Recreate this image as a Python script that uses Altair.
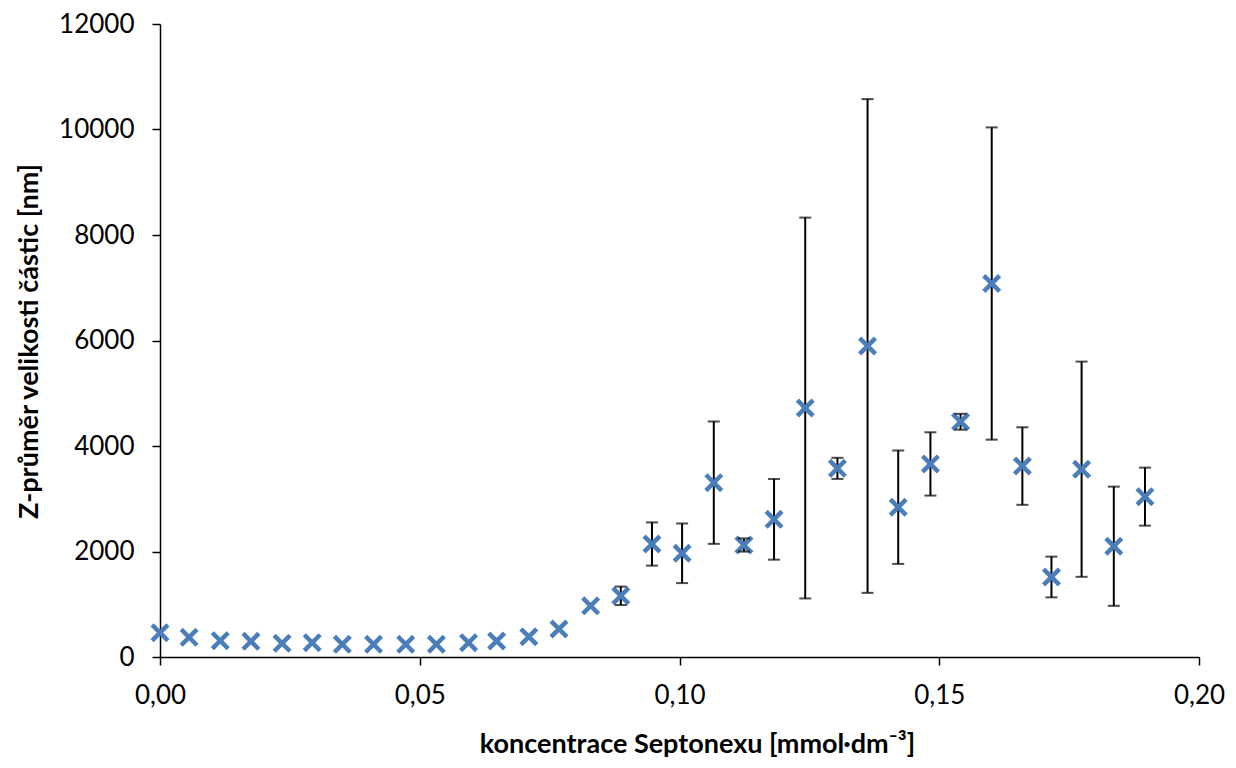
import altair as alt
import pandas as pd

conc = [0.0, 0.0056, 0.0116, 0.0175, 0.0235, 0.0293, 0.0351, 0.0411, 0.0473, 0.0532,
        0.0594, 0.0648, 0.0710, 0.0768, 0.0829, 0.0887, 0.0947, 0.1005, 0.1066, 0.1124,
        0.1182, 0.1242, 0.1304, 0.1362, 0.1421, 0.1483, 0.1541, 0.1601, 0.1660, 0.1716,
        0.1774, 0.1836, 0.1896]
size_nm = [460, 373, 310, 297, 259, 272, 240, 240, 240, 240,
           272, 303, 385, 530, 970, 1160, 2142, 1966, 3305, 2123,
           2610, 4720, 3576, 5896, 2840, 3660, 4460, 7080, 3620, 1517,
           3560, 2100, 3040]
err_nm = [0, 0, 0, 0, 0, 0, 0, 0, 0, 0,
          0, 0, 0, 0, 0, 175, 410, 565, 1160, 125,
          765, 3610, 200, 4680, 1075, 600, 150, 2960, 735, 386,
          2040, 1130, 550]

x_ticks = [0.0, 0.05, 0.10, 0.15, 0.20]
y_ticks = [0, 2000, 4000, 6000, 8000, 10000, 12000]

df = pd.DataFrame({"c": conc, "z": size_nm, "e": err_nm})
df["lo"] = df["z"] - df["e"]
df["hi"] = df["z"] + df["e"]
dfe = df[df["e"] > 0]

FONT = "Lato"

xs = alt.Scale(domain=[0, 0.2], nice=False, zero=False)
ys = alt.Scale(domain=[0, 12000], nice=False)

x_axis = alt.Axis(
    values=x_ticks,
    labelExpr="replace(format(datum.value, '.2f'), '.', ',')",
    title="koncentrace Septonexu [mmol·dm⁻³]",
    grid=False, tickSize=8, labelPadding=17, labelFlush=False,
    titleX=537, titleY=87, titleBaseline="middle", titleAnchor="middle",
)
y_axis = alt.Axis(
    values=y_ticks, format="d",
    title="Z-průměr velikosti částic [nm]",
    grid=False, tickSize=8, labelPadding=18, labelFlush=False,
    titleX=-131, titleY=317, titleAngle=270, titleBaseline="middle",
    titleAlign="center",
)

rules = alt.Chart(dfe).mark_rule(color="black", strokeWidth=2).encode(
    x=alt.X("c:Q", scale=xs, axis=x_axis),
    y=alt.Y("lo:Q", scale=ys, axis=y_axis),
    y2="hi:Q",
)

caps_lo = alt.Chart(dfe).mark_tick(color="black", thickness=2, size=12, orient="horizontal").encode(
    x=alt.X("c:Q", scale=xs),
    y=alt.Y("lo:Q", scale=ys),
)
caps_hi = alt.Chart(dfe).mark_tick(color="black", thickness=2, size=12, orient="horizontal").encode(
    x=alt.X("c:Q", scale=xs),
    y=alt.Y("hi:Q", scale=ys),
)

points = alt.Chart(df).mark_point(
    shape="M-1,-1L1,1M1,-1L-1,1", filled=False, color="#4A7EBB",
    strokeWidth=4.5, size=250, opacity=1,
).encode(
    x=alt.X("c:Q", scale=xs),
    y=alt.Y("z:Q", scale=ys),
)

chart = alt.layer(rules, points, caps_lo, caps_hi).properties(
    width=1039, height=633,
    autosize=alt.AutoSizeParams(type="none"),
    padding={"left": 152, "top": 16, "right": 29, "bottom": 103},
).configure_view(stroke=None).configure_axis(
    domainColor="black", domainWidth=1.5, tickColor="black", tickWidth=1.5,
    labelFont=FONT, labelFontSize=26, labelColor="black",
    titleFont=FONT, titleFontSize=27, titleFontWeight="bold", titleColor="black",
)

chart.save("out.html", embed_options={"renderer": "svg", "actions": False})
